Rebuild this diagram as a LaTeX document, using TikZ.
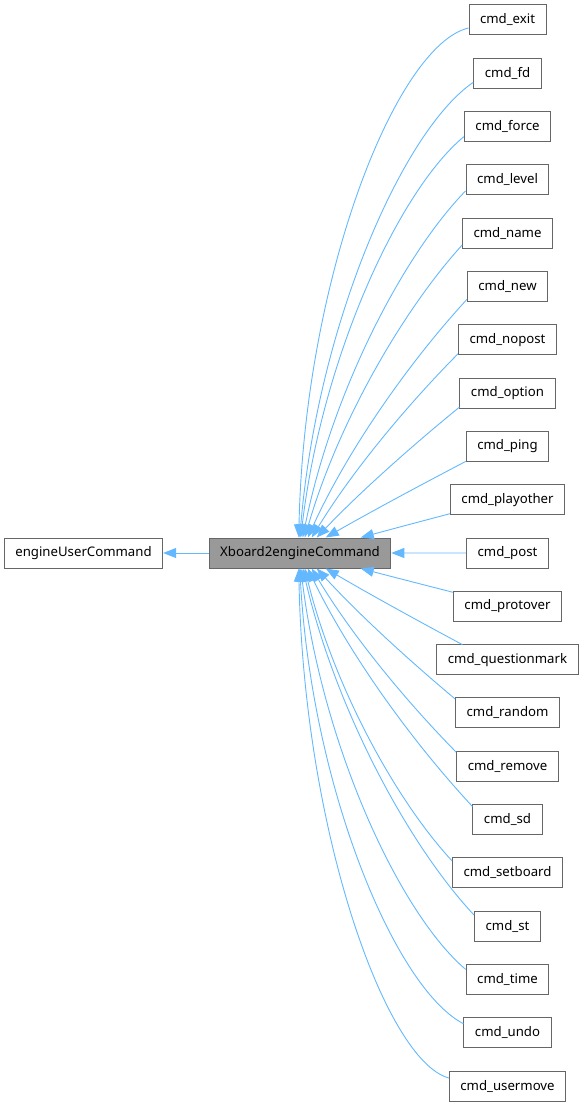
\documentclass[tikz,border=0pt]{standalone}
\usepackage{fontspec}
\setmainfont{Noto Sans}
\usetikzlibrary{arrows.meta,calc}
\definecolor{edgec}{HTML}{63B8FF}
\definecolor{bord}{HTML}{666666}
\definecolor{fillg}{HTML}{999999}
\begin{document}
\begin{tikzpicture}[x=1pt,y=-1pt,
  box/.style={draw=bord, line width=1pt, fill=white, minimum height=30pt,
    inner xsep=11pt, inner ysep=0pt, font=\fontsize{13.2}{15}\selectfont, text=black},
  edge/.style={draw=edgec, line width=0.9pt, -{Triangle[length=13pt,width=10pt,fill=edgec]}}]
\useasboundingbox (0,0) rectangle (583,1107);
\node[box] (euc) at (83.5,553) {engineUserCommand};
\node[box, fill=fillg] (xb) at (300,553) {Xboard2engineCommand};
\foreach \nm [count=\i from 0] in {exit,fd,force,level,name,new,nopost,option,ping,playother,post,protover,questionmark,random,remove,sd,setboard,st,time,undo,usermove}
  \node[box] (\nm) at (507.5,{20+53.3*\i}) {cmd\_\nm};
\draw[edge] (xb.west) -- (euc.east);
\draw[edge] (post.west) -- (xb.east);
% upper edges
\foreach \nm/\xo/\dx/\dy in {exit/90/0/8, fd/91/0/9, force/92/0/10, level/94/0/11, name/96/0/12, new/99/0/13, nopost/103/0/14, option/108/0/14, ping/117/0/15, playother/152/0/14}
  \draw[edge] let \p1=([xshift=\dx pt,yshift=-\dy pt]\nm.west), \p2=([xshift=\xo pt]xb.north west),
    \n1={\x1-\x2}, \n2={\y1-\y2}, \n3={min(0.9,0.1*(\n2/\n1)*(\n2/\n1))} in
    (\p1) .. controls ($(\p1)+({-\n1*(1/3+0.1*\n3)},{-\n2*(1-\n3)/3})$)
    and ($(\p2)+({\n1*(1-\n3)/3},{\n2*(1/3+0.2*\n3)})$) .. (\p2);
% lower edges
\foreach \nm/\xo/\dx/\dy in {protover/152/0/14, questionmark/117/26/15, random/108/0/14, remove/103/0/14, sd/99/0/13, setboard/96/0/12, st/94/0/11, time/92/0/10, undo/91/0/9, usermove/90/0/8}
  \draw[edge] let \p1=([xshift=\dx pt,yshift=\dy pt]\nm.west), \p2=([xshift=\xo pt]xb.south west),
    \n1={\x1-\x2}, \n2={\y2-\y1}, \n3={min(0.9,0.1*(\n2/\n1)*(\n2/\n1))} in
    (\p1) .. controls ($(\p1)+({-\n1*(1/3+0.1*\n3)},{\n2*(1-\n3)/3})$)
    and ($(\p2)+({\n1*(1-\n3)/3},{-\n2*(1/3+0.2*\n3)})$) .. (\p2);
\end{tikzpicture}
\end{document}
